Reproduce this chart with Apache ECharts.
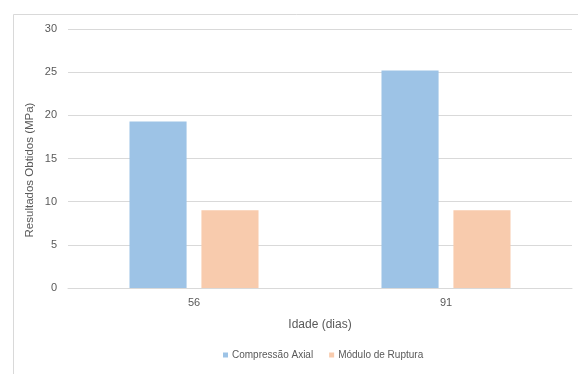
<!DOCTYPE html>
<html>
<head>
<meta charset="utf-8">
<script src="https://cdn.jsdelivr.net/npm/echarts@6/dist/echarts.min.js"></script>
<style>
  html, body { margin: 0; padding: 0; background: #fff; }
  #chart { width: 578px; height: 374px; }
</style>
</head>
<body>
<div id="chart"></div>
<script>
// Ages (days) on the category axis
const ages = ['56', '91'];
// Test results in MPa
const compressaoAxial = [19.3, 25.2];
const moduloRuptura = [9.0, 9.0];
// Value axis ticks
const yMin = 0;
const yMax = 30;
const yStep = 5;

const FONT = 'Liberation Sans';
const TEXT = '#595959';
const LINE = '#d9d9d9';

const chart = echarts.init(document.getElementById('chart'), null, { renderer: 'canvas' });

chart.setOption({
  backgroundColor: '#ffffff',
  animation: false,
  textStyle: { fontFamily: FONT },
  graphic: [
    {
      // chart area frame
      type: 'rect',
      left: 11, top: 12,
      shape: { width: 700, height: 500 },
      style: { fill: 'none', stroke: LINE, lineWidth: 1 },
      silent: true
    },
    {
      // value axis title
      type: 'text',
      x: 30, y: 170,
      rotation: Math.PI / 2,
      style: {
        text: 'Resultados Obtidos (MPa)',
        fill: TEXT,
        font: '11.5px "Liberation Sans"',
        align: 'center',
        verticalAlign: 'middle'
      },
      silent: true
    }
  ],
  grid: { left: 68, right: 6, top: 29, bottom: 86 },
  legend: {
    left: 218,
    top: 345,
    itemWidth: 5,
    itemHeight: 5,
    itemGap: 16,
    icon: 'rect',
    textStyle: { color: TEXT, fontSize: 10, fontFamily: FONT, padding: [0, 0, 0, -1] },
    data: ['Compressão Axial', 'Módulo de Ruptura']
  },
  xAxis: {
    type: 'category',
    data: ages,
    name: 'Idade (dias)',
    nameLocation: 'middle',
    nameGap: 31,
    nameTextStyle: { color: TEXT, fontSize: 12, fontFamily: FONT },
    axisLine: { show: true, lineStyle: { color: LINE, width: 1 } },
    axisTick: { show: false },
    axisLabel: { color: TEXT, fontSize: 11, margin: 9, fontFamily: FONT }
  },
  yAxis: {
    type: 'value',
    min: yMin,
    max: yMax,
    interval: yStep,
    axisLine: { show: false },
    axisTick: { show: false },
    axisLabel: { color: TEXT, fontSize: 11, margin: 11, fontFamily: FONT },
    splitLine: { lineStyle: { color: LINE, width: 1 } }
  },
  series: [
    {
      name: 'Compressão Axial',
      type: 'bar',
      data: compressaoAxial,
      barGap: '26%',
      barCategoryGap: '48.8%',
      itemStyle: { color: '#9dc3e6' }
    },
    {
      name: 'Módulo de Ruptura',
      type: 'bar',
      data: moduloRuptura,
      itemStyle: { color: '#f8cbad' }
    }
  ]
});
</script>
</body>
</html>
